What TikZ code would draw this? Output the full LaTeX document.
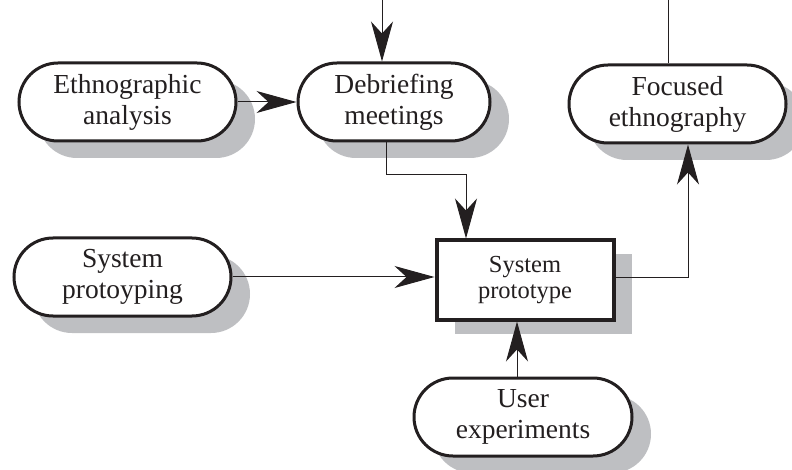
\documentclass[tikz,border=0pt]{standalone}
\usepackage{fontspec}
\setmainfont{Liberation Serif}
\usetikzlibrary{arrows.meta,shadows}
\definecolor{shade}{RGB}{190,191,194}
\definecolor{ink}{RGB}{35,31,32}
\tikzset{
  activity/.style={draw=ink, line width=3pt, rounded corners=39pt,
    minimum width=217pt, minimum height=78pt, inner sep=0pt,
    align=center, text=ink, fill=white,
    font=\fontsize{27.5}{31}\selectfont,
    drop shadow={shadow xshift=19pt, shadow yshift=-17pt, fill=shade, opacity=1}},
  product/.style={draw=ink, line width=4pt, minimum width=177pt,
    minimum height=79pt, inner sep=0pt, align=center, text=ink, fill=white,
    font=\fontsize{24.5}{26}\selectfont,
    drop shadow={shadow xshift=18pt, shadow yshift=-14pt, fill=shade, opacity=1}},
  flow/.style={draw=ink, line width=1pt,
    -{Stealth[length=40pt, width=22pt, inset=12pt]}},
  link/.style={draw=ink, line width=1pt}
}
\begin{document}
\begin{tikzpicture}[x=1pt, y=-1pt]
  \useasboundingbox (0,0) rectangle (792,470);

  % activities and the prototype they feed
  \node[activity] (ea) at (127.5,102) {Ethnographic\\analysis};
  \node[activity, minimum width=192pt] (dm) at (394,102) {Debriefing\\meetings};
  \node[activity] (fe) at (677.5,104) {Focused\\ethnography};
  \node[activity] (spg) at (122.5,277) {System\\protoyping};
  \node[product] (pt) at (525,280) {System\\prototype};
  \node[activity, minimum width=218pt] (ue) at (523,417) {User\\experiments};

  % free ends at the top edge
  \coordinate (srcA) at (382,0);
  \coordinate (sinkF) at (668,0);
  % bend points
  \coordinate (dmOut) at (386,175);
  \coordinate (ptIn) at ([xshift=-59pt]pt.north);
  \coordinate (feIn) at ([xshift=10.5pt]fe.south);
  \coordinate (ptOut) at ([yshift=2pt]pt.east);
  \coordinate (ueOut) at ([xshift=-6pt]ue.north);

  % connectors
  \draw[flow] (srcA) -- (srcA |- dm.north);
  \draw[link] (sinkF) -- (sinkF |- fe.north);
  \draw[flow] (ea.east) -- (dm.west);
  \draw[flow] (dmOut |- dm.south) -- (dmOut) -| (ptIn);
  \draw[flow] (spg.east) -- (spg.east -| pt.west);
  \draw[flow] (ptOut) -| (feIn);
  \draw[flow] (ueOut) -- (ueOut |- pt.south);
\end{tikzpicture}
\end{document}
